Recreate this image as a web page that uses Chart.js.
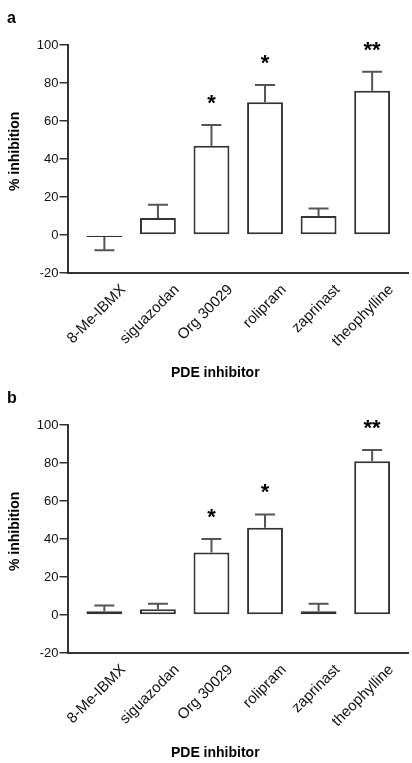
<!DOCTYPE html>
<html>
<head>
<meta charset="utf-8">
<script src="https://cdn.jsdelivr.net/npm/chart.js"></script>
<style>
  body { margin: 0; background: #fff; }
  .panel { position: relative; width: 412px; height: 380px; }
</style>
</head>
<body>
<div class="panel"><canvas id="chartA"></canvas></div>
<div class="panel"><canvas id="chartB"></canvas></div>
<script>
var inhibitors = ['8-Me-IBMX', 'siguazodan', 'Org 30029', 'rolipram', 'zaprinast', 'theophylline'];
var yTicks = [-20, 0, 20, 40, 60, 80, 100];

// panel a
var inhibitionA = [-1, 9, 47, 70, 10, 76];
var errorA = [7, 7, 11, 9, 4, 10];
var starsA = ['', '', '*', '*', '', '**'];

// panel b
var inhibitionB = [2, 3, 33, 46, 2, 81];
var errorB = [3, 3, 7, 7, 4, 6];
var starsB = ['', '', '*', '*', '', '**'];

var fontFamily = "'Liberation Sans', Arial, sans-serif";
Chart.defaults.font.family = fontFamily;
Chart.defaults.color = '#111';

// draws SEM bars and significance stars on top of the bars
function errorBars(values, errors, stars) {
    return {
        id: 'errorBars',
        afterDatasetsDraw: function (chart) {
            var ctx = chart.ctx;
            var y = chart.scales.y;
            var meta = chart.getDatasetMeta(0);
            ctx.save();
            ctx.strokeStyle = '#555';
            ctx.lineWidth = 2;
            meta.data.forEach(function (bar, i) {
                var v = values[i];
                var end = v < 0 ? v - errors[i] : v + errors[i];
                var y0 = y.getPixelForValue(v);
                var y1 = y.getPixelForValue(end);
                ctx.beginPath();
                ctx.moveTo(bar.x, y0);
                ctx.lineTo(bar.x, y1);
                ctx.moveTo(bar.x - 10, y1);
                ctx.lineTo(bar.x + 10, y1);
                ctx.stroke();
                if (stars[i]) {
                    ctx.fillStyle = '#000';
                    ctx.font = 'bold 22px ' + fontFamily;
                    ctx.textAlign = 'center';
                    ctx.textBaseline = 'alphabetic';
                    ctx.fillText(stars[i], bar.x, y1 - 15);
                }
            });
            ctx.restore();
        }
    };
}

function makeChart(id, panel, values, errors, stars) {
    var ctx = document.getElementById(id);
    new Chart(ctx, {
        type: 'bar',
        data: {
            datasets: [{
                data: values.map(function (v, i) { return { x: i, y: v }; }),
                backgroundColor: '#fff',
                borderColor: '#333',
                borderWidth: 2,
                borderSkipped: false,
                barPercentage: 0.67,
                categoryPercentage: 1
            }]
        },
        options: {
            responsive: true,
            maintainAspectRatio: false,
            animation: false,
            layout: { padding: { left: 7, right: 4, top: 0, bottom: 0 } },
            plugins: {
                legend: { display: false },
                tooltip: { enabled: false },
                title: {
                    display: true, text: panel, align: 'start', color: '#000',
                    font: { size: 16, weight: 'bold' },
                    padding: { top: 9, bottom: 17 }
                },
                subtitle: {
                    display: true, text: '    PDE inhibitor', position: 'bottom', color: '#000',
                    font: { size: 14, weight: 'bold', lineHeight: 1 },
                    padding: { top: 3, bottom: 0 }
                }
            },
            scales: {
                x: {
                    type: 'linear',
                    min: -0.67,
                    max: 5.67,
                    offset: false,
                    grid: { display: false },
                    border: { color: '#333', width: 2 },
                    afterBuildTicks: function (scale) {
                        scale.ticks = inhibitors.map(function (c, i) { return { value: i }; });
                    },
                    afterFit: function (scale) {
                        scale.height = 90;
                    },
                    ticks: {
                        autoSkip: false,
                        minRotation: 45,
                        maxRotation: 45,
                        labelOffset: 19,
                        padding: 0,
                        color: '#111',
                        font: { size: 15 },
                        callback: function (v) { return inhibitors[v]; }
                    }
                },
                y: {
                    min: -20,
                    max: 100,
                    afterBuildTicks: function (scale) {
                        scale.ticks = yTicks.map(function (v) { return { value: v }; });
                    },
                    grid: { drawOnChartArea: false, tickLength: 9, color: '#333', lineWidth: 1.5 },
                    border: { color: '#333', width: 2 },
                    ticks: { color: '#111', font: { size: 13 }, padding: 1 },
                    title: {
                        display: true, text: '    % inhibition', color: '#000',
                        font: { size: 14, weight: 'bold' },
                        padding: { top: 0, bottom: 12 }
                    }
                }
            }
        },
        plugins: [errorBars(values, errors, stars)]
    });
}

makeChart('chartA', 'a', inhibitionA, errorA, starsA);
makeChart('chartB', 'b', inhibitionB, errorB, starsB);
</script>
</body>
</html>
